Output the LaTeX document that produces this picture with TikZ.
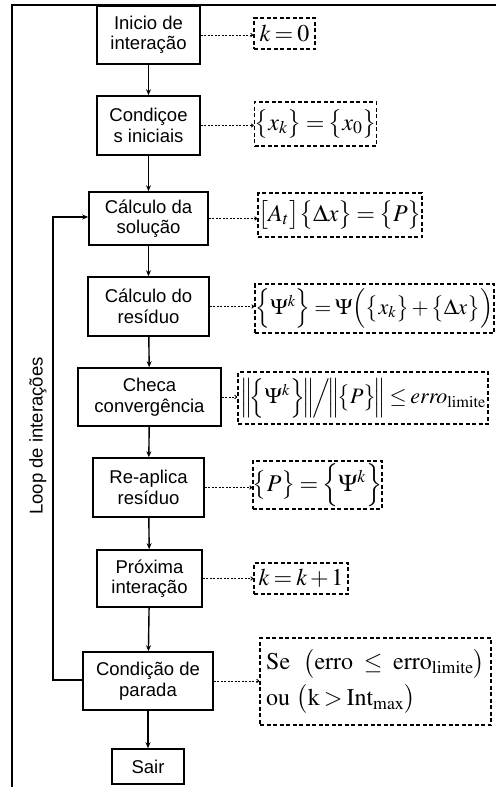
\documentclass[tikz,border=0pt]{standalone}
\usepackage{mathptmx}
\usepackage[no-math]{fontspec}
\setmainfont{Liberation Sans}
\usetikzlibrary{arrows.meta}
\thickmuskip=3mu plus 1mu
\medmuskip=2mu plus 1mu
\begin{document}
\begin{tikzpicture}[x=1pt,y=-1pt,
 blk/.style={draw, line width=1.6pt, inner sep=0pt, align=center, font=\fontsize{18.5}{20.5}\selectfont},
 eqbox/.style={draw, dash pattern=on 4pt off 2.5pt, line width=1.3pt, inner sep=0pt, font=\fontsize{24}{28}\selectfont},
 flow/.style={line width=1.4pt, -{Stealth[length=6pt,width=5pt]}},
 link/.style={line width=0.9pt, dash pattern=on 2pt off 1.5pt, -{To[length=3pt,width=4pt]}},
 frame/.style={line width=2.4pt}
]
\useasboundingbox (0,0) rectangle (496,787);
% frame
\coordinate (fr1) at (496,5);
\coordinate (fr2) at (12,5);
\coordinate (fr3) at (12,787);
\draw[frame] (fr1) -- (fr2) -- (fr3);

% main boxes
\node[blk, minimum width=103pt, minimum height=58pt] (b1) at (148.5,35) {Inicio de\\interação};
\node[blk, minimum width=103pt, minimum height=59pt] (b2) at (148.5,125.5) {Condiçoe\\s iniciais};
\node[blk, minimum width=119pt, minimum height=53pt] (b3) at (148.5,218.5) {Cálculo da\\solução};
\node[blk, minimum width=121pt, minimum height=59pt] (b4) at (148.5,306.5) {Cálculo do\\resíduo};
\node[blk, minimum width=143pt, minimum height=58pt] (b5) at (149.5,397) {Checa\\convergência};
\node[blk, minimum width=111pt, minimum height=59pt] (b6) at (148.5,487.5) {Re-aplica\\resíduo};
\node[blk, minimum width=105pt, minimum height=57pt] (b7) at (149.5,578.5) {Próxima\\interação};
\node[blk, minimum width=130pt, minimum height=58pt] (b8) at (148,681) {Condição de\\parada};
\node[blk, minimum width=72pt, minimum height=35pt] (b9) at (148,766.5) {Sair};

% equation boxes
\node[eqbox, minimum width=61pt, minimum height=31pt] (d1) at (284.5,33.5) {$k=0$};
\node[eqbox, minimum width=121pt, minimum height=44pt] (d2) at (315.5,124) {$\bigl\{x_k\bigr\}=\bigl\{x_0\bigr\}$};
\node[eqbox, minimum width=164pt, minimum height=44pt] (d3) at (340,215) {$\bigl[A_t\bigr]\bigl\{\Delta x\bigr\}=\bigl\{P\bigr\}$};
\node[eqbox, minimum width=239pt, minimum height=49pt, font=\fontsize{22}{26}\selectfont] (d4) at (374.5,308.5) {$\Bigl\{\Psi^k\Bigr\}=\Psi\Bigl(\bigl\{x_k\bigr\}+\bigl\{\Delta x\bigr\}\Bigr)$};
\node[eqbox, minimum width=250pt, minimum height=52pt, font=\fontsize{22}{26}\selectfont] (d5) at (363,398) {$\Bigl\|\!\Bigl\{\Psi^k\Bigr\}\!\Bigr\|\!\Big/\!\Bigl\|\!\bigl\{P\bigr\}\!\Bigr\|\le \mathit{erro}_{\mathrm{limite}}$};
\node[eqbox, minimum width=125pt, minimum height=48pt] (d6) at (317.5,485) {$\bigl\{P\bigr\}=\Bigl\{\Psi^k\Bigr\}$};
\node[eqbox, minimum width=94pt, minimum height=31pt] (d7) at (301,578.5) {$k=k+1$};
\node[eqbox, minimum width=231pt, minimum height=87pt, align=left] (d8) at (375.5,681.5) {$\mathrm{Se}\ \ \bigl(\mathrm{erro}\ \le\ \mathrm{erro}_{\mathrm{limite}}\bigr)$\\[6pt]$\mathrm{ou}\ \bigl(\mathrm{k}>\mathrm{Int}_{\max}\bigr)$};

% flow arrows
\draw[flow] (b1) -- (b2);
\draw[flow] (b2) -- (b3);
\draw[flow] (b3) -- (b4);
\draw[flow] (b4) -- (b5);
\draw[flow] (b5) -- (b6);
\draw[flow] (b6) -- (b7);
\draw[flow] (b7) -- (b8);
\draw[flow] (b8) -- (b9);

% loop
\coordinate (lp1) at (53,680);
\coordinate (lp2) at (53,217);
\draw[flow] (b8.west |- lp1) -- (lp1) -- (lp2) -- (b3.west |- lp2);
\node[rotate=90, font=\fontsize{18.5}{20}\selectfont] (lbl) at (38,436) {Loop de interações};

% dashed links
\draw[link] (b1.east) -- (d1.west |- b1.east);
\draw[link] (b2.east) -- (d2.west |- b2.east);
\draw[link] (b3.east) -- (d3.west |- b3.east);
\draw[link] (b4.east) -- (d4.west |- b4.east);
\draw[link] (b5.east) -- (d5.west |- b5.east);
\draw[link] (b6.east) -- (d6.west |- b6.east);
\draw[link] (b7.east) -- (d7.west |- b7.east);
\draw[link] (b8.east) -- (d8.west |- b8.east);
\end{tikzpicture}
\end{document}
